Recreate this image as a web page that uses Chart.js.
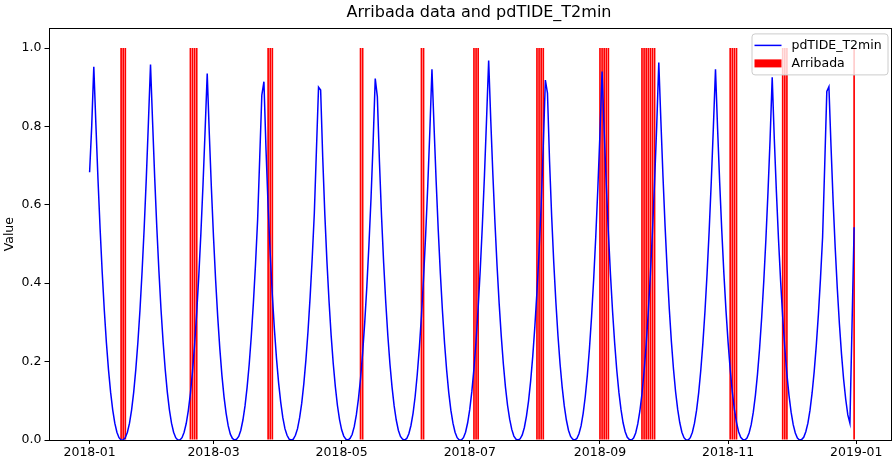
<!DOCTYPE html>
<html>
<head>
<meta charset="utf-8">
<title>Arribada data and pdTIDE_T2min</title>
<script src="https://cdn.jsdelivr.net/npm/chart.js@4.4.1/dist/chart.umd.min.js"></script>
<style>
  html, body { margin: 0; padding: 0; background: #fff; }
  #wrap { width: 895px; height: 459px; position: relative; }
</style>
</head>
<body>
<div id="wrap"><canvas id="arribadaChart"></canvas></div>
<script>
// daily pdTIDE_T2min values, 2018-01-01 .. 2018-12-31
const startDate = "2018-01-01";
const tideValues = [
    0.683, 0.80, 0.952, 0.804, 0.664, 0.539, 0.428, 0.331, 0.248, 0.179,
    0.122, 0.077, 0.043, 0.020, 0.006, 0.000, 0.000, 0.006, 0.020, 0.043,
    0.077, 0.122, 0.180, 0.250, 0.333, 0.431, 0.542, 0.668, 0.810, 0.958,
    0.810, 0.668, 0.542, 0.431, 0.333, 0.250, 0.180, 0.122, 0.077, 0.043,
    0.020, 0.006, 0.000, 0.000, 0.006, 0.020, 0.042, 0.075, 0.119, 0.175,
    0.244, 0.325, 0.420, 0.529, 0.652, 0.790, 0.935, 0.780, 0.641, 0.517,
    0.408, 0.314, 0.233, 0.165, 0.110, 0.068, 0.036, 0.015, 0.004, 0.000,
    0.002, 0.009, 0.025, 0.051, 0.087, 0.135, 0.194, 0.266, 0.351, 0.449,
    0.562, 0.720, 0.880, 0.914, 0.740, 0.595, 0.474, 0.370, 0.282, 0.207,
    0.145, 0.096, 0.057, 0.029, 0.012, 0.002, 0.000, 0.002, 0.012, 0.029,
    0.057, 0.094, 0.144, 0.205, 0.278, 0.365, 0.465, 0.579, 0.740, 0.900,
    0.893, 0.720, 0.575, 0.455, 0.354, 0.267, 0.195, 0.136, 0.088, 0.052,
    0.026, 0.010, 0.002, 0.000, 0.004, 0.014, 0.034, 0.064, 0.105, 0.157,
    0.222, 0.300, 0.392, 0.498, 0.618, 0.760, 0.922, 0.876, 0.710, 0.570,
    0.452, 0.352, 0.266, 0.194, 0.135, 0.087, 0.051, 0.025, 0.009, 0.002,
    0.000, 0.004, 0.016, 0.037, 0.068, 0.111, 0.167, 0.235, 0.317, 0.413,
    0.523, 0.648, 0.789, 0.946, 0.799, 0.660, 0.535, 0.425, 0.329, 0.247,
    0.178, 0.121, 0.076, 0.043, 0.020, 0.006, 0.000, 0.000, 0.006, 0.020,
    0.044, 0.078, 0.124, 0.182, 0.253, 0.337, 0.435, 0.548, 0.675, 0.818,
    0.968, 0.816, 0.678, 0.554, 0.444, 0.348, 0.265, 0.194, 0.135, 0.088,
    0.053, 0.027, 0.010, 0.002, 0.000, 0.003, 0.013, 0.032, 0.061, 0.100,
    0.151, 0.214, 0.290, 0.379, 0.481, 0.598, 0.750, 0.918, 0.885, 0.710,
    0.570, 0.452, 0.352, 0.266, 0.194, 0.135, 0.087, 0.051, 0.025, 0.009,
    0.002, 0.000, 0.004, 0.016, 0.036, 0.068, 0.111, 0.166, 0.234, 0.315,
    0.410, 0.519, 0.644, 0.784, 0.940, 0.789, 0.652, 0.530, 0.422, 0.328,
    0.247, 0.178, 0.122, 0.078, 0.044, 0.021, 0.007, 0.001, 0.000, 0.005,
    0.018, 0.041, 0.074, 0.118, 0.175, 0.244, 0.326, 0.423, 0.533, 0.659,
    0.799, 0.963, 0.814, 0.672, 0.545, 0.433, 0.335, 0.251, 0.181, 0.123,
    0.078, 0.044, 0.020, 0.006, 0.000, 0.000, 0.006, 0.020, 0.043, 0.076,
    0.121, 0.178, 0.247, 0.329, 0.425, 0.535, 0.660, 0.799, 0.946, 0.794,
    0.656, 0.533, 0.424, 0.330, 0.249, 0.180, 0.123, 0.078, 0.045, 0.021,
    0.007, 0.001, 0.000, 0.005, 0.018, 0.039, 0.071, 0.114, 0.168, 0.234,
    0.313, 0.406, 0.512, 0.633, 0.768, 0.925, 0.768, 0.633, 0.512, 0.406,
    0.313, 0.234, 0.168, 0.114, 0.071, 0.039, 0.018, 0.005, 0.000, 0.001,
    0.007, 0.021, 0.043, 0.076, 0.120, 0.175, 0.242, 0.321, 0.413, 0.518,
    0.700, 0.889, 0.901, 0.750, 0.610, 0.490, 0.386, 0.296, 0.219, 0.155,
    0.104, 0.064, 0.043, 0.290, 0.543
];

// days with an arribada (bar height 1)
const arribadaDates = [
    "2018-01-16", "2018-01-17", "2018-01-18",
    "2018-02-18", "2018-02-19", "2018-02-20", "2018-02-21",
    "2018-03-27", "2018-03-28", "2018-03-29",
    "2018-05-10", "2018-05-11",
    "2018-06-08", "2018-06-09",
    "2018-07-03", "2018-07-04", "2018-07-05",
    "2018-08-02", "2018-08-03", "2018-08-04", "2018-08-05",
    "2018-09-01", "2018-09-02", "2018-09-03", "2018-09-04", "2018-09-05",
    "2018-09-21", "2018-09-22", "2018-09-23", "2018-09-24", "2018-09-25", "2018-09-26", "2018-09-27",
    "2018-11-02", "2018-11-03", "2018-11-04", "2018-11-05",
    "2018-11-27", "2018-11-28", "2018-11-29",
    "2018-12-31"
];

const xTickLabels = ["2018-01", "2018-03", "2018-05", "2018-07", "2018-09", "2018-11", "2019-01"];
const yTickValues = [0, 0.2, 0.4, 0.6, 0.8, 1.0];
const chartTitle = "Arribada data and pdTIDE_T2min";

const FONT = "'DejaVu Sans', sans-serif";
const DAY = 86400000;
const t0 = Date.parse(startDate + "T00:00:00Z");
const dayIndex = (s) => Math.round((Date.parse(s + "T00:00:00Z") - t0) / DAY);

// matplotlib-like frame, title and legend box in the upper right
const frameAndLegend = {
    id: "frameAndLegend",
    afterDatasetsDraw(chart) {
        const { ctx, chartArea: a } = chart;
        ctx.save();

        ctx.strokeStyle = "#000";
        ctx.lineWidth = 1;
        ctx.strokeRect(Math.round(a.left) + 0.5, Math.round(a.top) + 0.5,
            Math.round(a.right) - Math.round(a.left) - 1, Math.round(a.bottom) - Math.round(a.top));

        // title
        ctx.fillStyle = "#000";
        ctx.font = "16px " + FONT;
        ctx.textAlign = "center";
        ctx.textBaseline = "middle";
        ctx.fillText(chartTitle, (a.left + a.right) / 2 + 9, 13);

        const w = 136, h = 41;
        const bx = a.right - 4 - w, by = a.top + 5;
        ctx.beginPath();
        ctx.roundRect(bx + 0.5, by + 0.5, w, h, 3);
        ctx.fillStyle = "rgba(255,255,255,0.8)";
        ctx.fill();
        ctx.strokeStyle = "#cccccc";
        ctx.stroke();

        ctx.strokeStyle = "#0000ff";
        ctx.lineWidth = 1.5;
        ctx.beginPath();
        ctx.moveTo(bx + 3, by + 12);
        ctx.lineTo(bx + 30, by + 12);
        ctx.stroke();

        ctx.fillStyle = "#ff0000";
        ctx.fillRect(bx + 3, by + 26, 27, 8);

        ctx.fillStyle = "#000";
        ctx.font = "12.5px " + FONT;
        ctx.textBaseline = "middle";
        ctx.textAlign = "left";
        ctx.fillText(chart.data.datasets[0].label, bx + 40, by + 12);
        ctx.fillText(chart.data.datasets[1].label, bx + 40, by + 30);

        ctx.restore();
    }
};

new Chart(document.getElementById("arribadaChart"), {
    type: "line",
    data: {
        datasets: [{
            type: "line",
            label: "pdTIDE_T2min",
            data: tideValues.map((v, i) => ({ x: i, y: v })),
            borderColor: "#0000ff",
            backgroundColor: "#0000ff",
            borderWidth: 1.5,
            pointRadius: 0,
            tension: 0,
            fill: false,
            order: 0,
        }, {
            type: "bar",
            label: "Arribada",
            data: arribadaDates.map((d) => ({ x: dayIndex(d), y: 1 })),
            backgroundColor: "#ff0000",
            borderWidth: 0,
            categoryPercentage: 1.0,
            barPercentage: 0.8,
            order: 1,
        }]
    },
    options: {
        responsive: true,
        maintainAspectRatio: false,
        animation: false,
        layout: { padding: { top: 28.4, right: 3.5, bottom: 0, left: 0 } },
        scales: {
            x: {
                type: "linear",
                offset: false,
                min: -19.57,
                max: 381.8,
                grid: { offset: false, drawOnChartArea: false, drawTicks: true, tickLength: 4, color: "#000" },
                border: { display: false },
                afterBuildTicks: (scale) => {
                    scale.ticks = xTickLabels.map((l) => ({ value: dayIndex(l + "-01") }));
                },
                afterFit: (scale) => { scale.height = 19; },
                ticks: {
                    autoSkip: false,
                    maxRotation: 0,
                    padding: 1,
                    color: "#000",
                    font: { family: FONT, size: 12.5 },
                    callback: (v, i) => xTickLabels[i],
                },
            },
            y: {
                min: 0,
                max: 1.05,
                grid: { drawOnChartArea: false, drawTicks: true, tickLength: 4, color: "#000" },
                border: { display: false },
                afterBuildTicks: (scale) => {
                    scale.ticks = yTickValues.map((v) => ({ value: v }));
                },
                afterFit: (scale) => { scale.width = 48.5; },
                title: {
                    display: true,
                    text: "Value",
                    color: "#000",
                    padding: { top: 2.5, bottom: 0 },
                    font: { family: FONT, size: 12.5 },
                },
                ticks: {
                    padding: 3,
                    color: "#000",
                    font: { family: FONT, size: 12.5 },
                    callback: (v) => v.toFixed(1),
                },
            },
        },
        plugins: {
            legend: { display: false },
            tooltip: { enabled: false },
            title: { display: false },
        }
    },
    plugins: [frameAndLegend]
});
</script>
</body>
</html>
